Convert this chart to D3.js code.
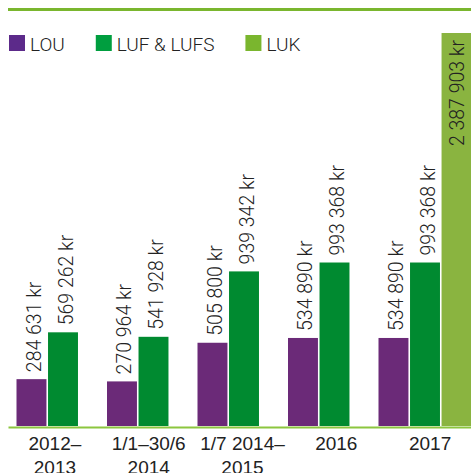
<!DOCTYPE html>
<html>
<head>
<meta charset="utf-8">
<script src="https://cdn.jsdelivr.net/npm/d3@7"></script>
<style>
  body { margin: 0; background: #fff; }
  svg { display: block; font-family: Roboto, "Liberation Sans", sans-serif; font-weight: 300; }
</style>
</head>
<body>
<svg id="chart" width="471" height="473"></svg>
<script>
var categories = [["2012–", "2013"], ["1/1–30/6", "2014"], ["1/7 2014–", "2015"], ["2016"], ["2017"]];
var seriesNames = ["LOU", "LUF & LUFS", "LUK"];
var louValues = [284631, 270964, 505800, 534890, 534890];
var lufValues = [569262, 541928, 939342, 993368, 993368];
var lukValues = [null, null, null, null, 2387903];

var barColors = ["#6b2a78", "#008a30", "#8ab440"];
var legendColors = ["#5c2a8a", "#009e3f", "#7ab62e"];

var width = 471, height = 473;
var svg = d3.select("#chart");

var catKeys = categories.map(function(c) { return c.join(" "); });
var allSeries = [louValues, lufValues, lukValues];

var fmt = d3.formatLocale({decimal: ",", thousands: " ", grouping: [3], currency: ["", " kr"]}).format(",d");

// label axis (evenly spread) and bar groups (slightly tighter)
var xLabel = d3.scaleBand().domain(catKeys).range([8, 477]);
var xGroup = d3.scaleBand().domain(catKeys).range([16.5, 469]);
var xInner = d3.scaleBand().domain(seriesNames).range([0, 93]).paddingInner(0.05);
var y = d3.scaleLinear().domain([0, 2387903]).range([426, 33]);

// top rule
svg.append("line")
	.attr("x1", 8).attr("x2", width)
	.attr("y1", 9.5).attr("y2", 9.5)
	.attr("stroke", "#7ab62e").attr("stroke-width", 3);

// legend
var lx = 9;
seriesNames.forEach(function(name, i) {
	var g = svg.append("g").attr("transform", "translate(" + lx + ",35)");
	g.append("rect").attr("width", 16).attr("height", 16).attr("fill", legendColors[i]);
	var t = g.append("text").attr("x", 21).attr("y", 16)
		.attr("font-size", 19).attr("fill", "#222").text(name);
	lx += 21 + t.node().getComputedTextLength() + 31;
});

// bars
var bars = [];
allSeries.forEach(function(vals, s) {
	vals.forEach(function(v, i) {
		if (v != null) bars.push({s: s, key: catKeys[i], value: v});
	});
});

svg.append("g").selectAll("rect").data(bars).join("rect")
	.attr("x", function(d) { return xGroup(d.key) + xInner(seriesNames[d.s]); })
	.attr("width", function(d) { return d.s == 2 ? width - (xGroup(d.key) + xInner(seriesNames[d.s])) : xInner.bandwidth(); })
	.attr("y", function(d) { return y(d.value); })
	.attr("height", function(d) { return y(0) - y(d.value); })
	.attr("fill", function(d) { return barColors[d.s]; });

// value labels
svg.append("g").selectAll("text").data(bars).join("text")
	.attr("transform", function(d) {
		var cx = xGroup(d.key) + xInner(seriesNames[d.s]) + xInner.bandwidth() / 2;
		if (d.s == 2) return "translate(" + (cx + 7) + "," + (y(d.value) + 7) + ") rotate(-90)";
		return "translate(" + (cx + 9.5) + "," + (y(d.value) - 7) + ") rotate(-90)";
	})
	.attr("text-anchor", function(d) { return d.s == 2 ? "end" : "start"; })
	.attr("font-size", 19.5)
	.attr("fill", "#222")
	.text(function(d) { return fmt(d.value) + " kr"; });

// x axis
var axis = svg.append("g")
	.attr("transform", "translate(0,427)")
	.call(d3.axisBottom(xLabel).tickSize(0).tickFormat(""));
axis.select(".domain").attr("stroke", "#8cc63f").attr("stroke-width", 2);
axis.selectAll(".tick text").remove();
axis.selectAll(".tick").each(function(k, i) {
	var t = d3.select(this).append("text")
		.attr("text-anchor", "middle")
		.attr("font-size", 19)
		.attr("fill", "#222");
	categories[i].forEach(function(line, j) {
		t.append("tspan").attr("x", 0).attr("y", 23 + j * 24).text(line);
	});
});
</script>
</body>
</html>
